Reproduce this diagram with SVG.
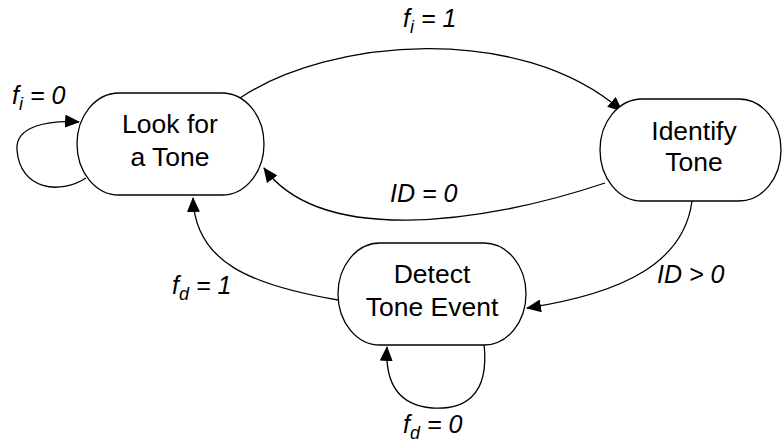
<svg xmlns="http://www.w3.org/2000/svg" width="782" height="444" viewBox="0 0 782 444">
<style>
.node{fill:#fff;stroke:#000;stroke-width:1.3}
.nt{font-family:"Liberation Sans",Arial,sans-serif;font-size:26.5px;text-anchor:middle;fill:#000}
.lb{font-family:"Liberation Sans",Arial,sans-serif;font-size:25px;font-style:italic;fill:#000}
.sub{font-size:18px}
.edge{fill:none;stroke:#000;stroke-width:1.3;marker-end:url(#ah)}
</style>
<defs>
<marker id="ah" viewBox="0 0 15 13" refX="14" refY="6.5" markerWidth="15" markerHeight="13" markerUnits="userSpaceOnUse" orient="auto">
<path d="M0,0 L15,6.5 L0,13 Z" fill="#000"/>
</marker>
</defs>
<g id="edges">
<path class="edge" d="M240,98 C330,38 520,22 622,111"/>
<path class="edge" d="M605,183 C480,225 320,245 264,168"/>
<path class="edge" d="M692,201 C684,262 625,293 527,308"/>
<path class="edge" d="M338,300 C250,285 195,262 193,198"/>
<path class="edge" d="M484,344 C490,398 462,410 432,408 C397,405 385,382 387,347"/>
<path class="edge" d="M86,178 C60,195 20,190 17,150 C15,126 48,120 79,122"/>
</g>
<g id="labels">
<text class="lb" x="403" y="27">f<tspan class="sub" dy="6">i</tspan><tspan dy="-6"> = 1</tspan></text>
<text class="lb" x="12" y="104">f<tspan class="sub" dy="6">i</tspan><tspan dy="-6"> = 0</tspan></text>
<text class="lb" x="390" y="202">ID = 0</text>
<text class="lb" x="657" y="283">ID &gt; 0</text>
<text class="lb" x="172" y="294">f<tspan class="sub" dy="6">d</tspan><tspan dy="-6"> = 1</tspan></text>
<text class="lb" x="403" y="433">f<tspan class="sub" dy="6">d</tspan><tspan dy="-6"> = 0</tspan></text>
</g>
<g id="look">
<rect class="node" x="77" y="93" width="187" height="102" rx="42" ry="51"/>
<text class="nt" x="170" y="133">Look for</text>
<text class="nt" x="170" y="166">a Tone</text>
</g>
<g id="identify">
<rect class="node" x="600" y="99" width="181" height="102" rx="42" ry="51"/>
<text class="nt" x="694" y="140">Identify</text>
<text class="nt" x="694" y="171">Tone</text>
</g>
<g id="detect">
<rect class="node" x="338" y="243" width="188" height="102" rx="42" ry="51"/>
<text class="nt" x="432" y="283">Detect</text>
<text class="nt" x="432" y="316">Tone Event</text>
</g>
</svg>
